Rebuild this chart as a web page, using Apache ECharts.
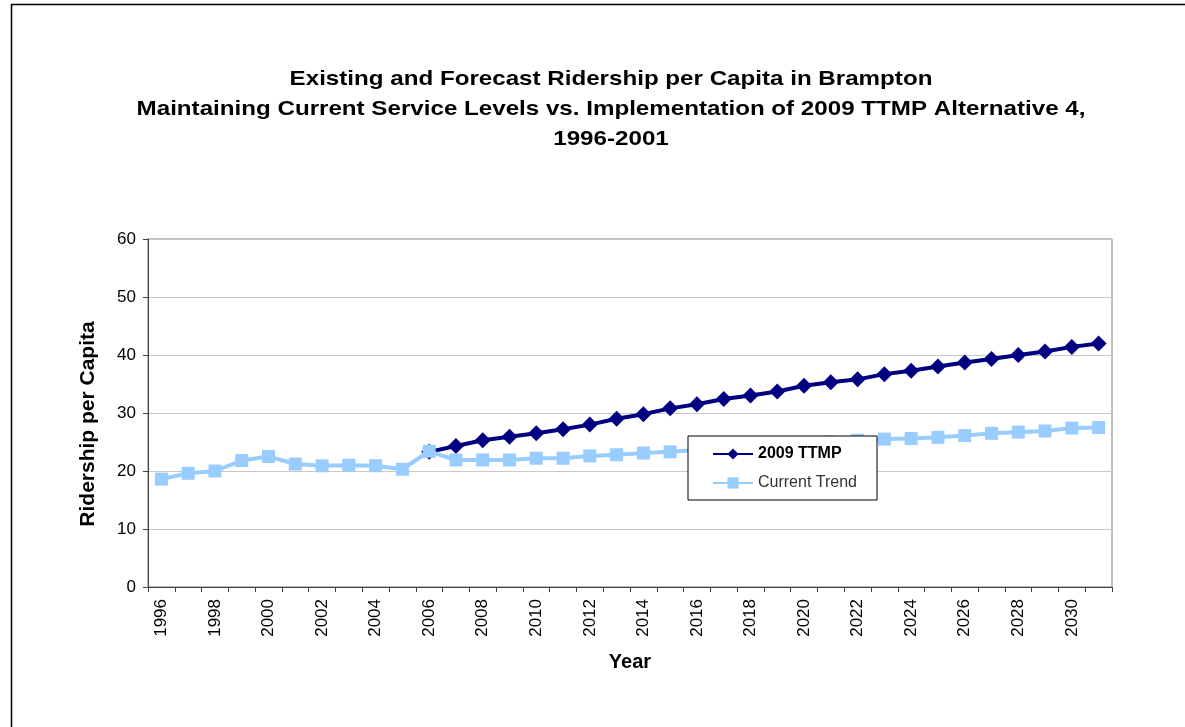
<!DOCTYPE html>
<html>
<head>
<meta charset="utf-8">
<script src="https://cdn.jsdelivr.net/npm/echarts@6/dist/echarts.min.js"></script>
<style>
  html, body { margin: 0; padding: 0; background: #ffffff; }
  #chart { width: 1185px; height: 727px; }
</style>
</head>
<body>
<div id="chart"></div>
<script>
// Years shown on the category axis
const years = [];
for (let y = 1996; y <= 2031; y++) years.push(String(y));

// Ridership per capita, 2009 TTMP Alternative 4 (forecast begins 2006)
const ttmp = [
  null, null, null, null, null, null, null, null, null, null,
  23.3, 24.3, 25.3, 25.9, 26.5, 27.2, 28.0, 29.0, 29.8, 30.8,
  31.5, 32.4, 33.0, 33.7, 34.7, 35.3, 35.8, 36.7, 37.3, 38.0,
  38.7, 39.3, 40.0, 40.6, 41.4, 42.0
];

// Ridership per capita, maintaining current service levels
const currentTrend = [
  18.6, 19.6, 20.0, 21.8, 22.5, 21.2, 20.9, 21.0, 20.9, 20.3,
  23.4, 21.9, 21.9, 21.9, 22.2, 22.2, 22.6, 22.8, 23.1, 23.3,
  23.6, 23.9, 24.2, 24.5, 24.8, 25.0, 25.3, 25.5, 25.6, 25.8,
  26.1, 26.5, 26.7, 26.9, 27.4, 27.5
];

const yTicks = [0, 10, 20, 30, 40, 50, 60];

const titleLines = [
  'Existing and Forecast Ridership per Capita in Brampton',
  'Maintaining Current Service Levels vs. Implementation of 2009 TTMP Alternative 4,',
  '1996-2001'
];

const yAxisTitle = 'Ridership per Capita';
const xAxisTitle = 'Year';

const FONT = '"Liberation Sans", Arial, sans-serif';

const chart = echarts.init(document.getElementById('chart'), null, { renderer: 'canvas' });

chart.setOption({
  backgroundColor: '#ffffff',
  animation: false,
  graphic: [
    {
      type: 'rect',
      shape: { x: 11.5, y: 4.5, width: 1300, height: 900 },
      style: { fill: 'none', stroke: '#000000', lineWidth: 1.5 },
      silent: true, z: -1
    },
    {
      // three-line heading, slightly widened
      type: 'text',
      x: 611, y: 64,
      scaleX: 1.15,
      style: {
        text: titleLines.join('\n'),
        font: 'bold 21px ' + FONT,
        fill: '#000000',
        textAlign: 'center',
        lineHeight: 30
      }
    },
    {
      // vertical value-axis title
      type: 'text',
      x: 88, y: 424,
      rotation: Math.PI / 2,
      style: {
        text: yAxisTitle,
        font: 'bold 21px ' + FONT,
        fill: '#000000',
        textAlign: 'center',
        textVerticalAlign: 'middle'
      }
    }
  ],
  grid: {
    left: 148, right: 73, top: 239, bottom: 140,
    show: true, borderColor: '#808080', borderWidth: 1,
    backgroundColor: '#ffffff'
  },
  legend: {
    orient: 'vertical',
    left: 688, top: 436,
    padding: [10, 20, 9, 24],
    itemGap: 13,
    itemWidth: 40, itemHeight: 14,
    backgroundColor: '#ffffff',
    borderColor: '#000000', borderWidth: 1,
    textStyle: { fontFamily: FONT, fontSize: 16, color: '#000000' },
    data: [
      { name: '2009 TTMP', textStyle: { fontWeight: 'bold' } },
      { name: 'Current Trend', textStyle: { color: '#333333' } }
    ]
  },
  xAxis: {
    type: 'category',
    data: years,
    boundaryGap: true,
    name: xAxisTitle,
    nameLocation: 'middle',
    nameGap: 65,
    nameTextStyle: { fontFamily: FONT, fontSize: 20, fontWeight: 'bold', color: '#000000' },
    axisLine: { lineStyle: { color: '#404040', width: 1 } },
    axisTick: { show: true, interval: 0, length: 5, lineStyle: { color: '#404040' } },
    axisLabel: {
      interval: 1, rotate: 90, margin: 12,
      fontFamily: FONT, fontSize: 17, color: '#000000'
    },
    splitLine: { show: false }
  },
  yAxis: {
    type: 'value',
    min: yTicks[0], max: yTicks[yTicks.length - 1], interval: 10,
    axisLine: { show: true, lineStyle: { color: '#404040', width: 1 } },
    axisTick: { show: true, length: 5, lineStyle: { color: '#404040' } },
    axisLabel: { margin: 12, fontFamily: FONT, fontSize: 17, color: '#000000' },
    splitLine: { show: true, lineStyle: { color: '#c8c8c8', width: 1 } }
  },
  series: [
    {
      name: '2009 TTMP',
      type: 'line',
      data: ttmp,
      connectNulls: false,
      symbol: 'diamond',
      symbolSize: 16,
      color: '#000080',
      lineStyle: { color: '#000080', width: 4 },
      itemStyle: { color: '#000080' },
      z: 2
    },
    {
      name: 'Current Trend',
      type: 'line',
      data: currentTrend,
      symbol: 'rect',
      symbolSize: 13,
      color: '#99ccff',
      lineStyle: { color: '#99ccff', width: 4 },
      itemStyle: { color: '#99ccff' },
      z: 3
    }
  ]
});
</script>
</body>
</html>
